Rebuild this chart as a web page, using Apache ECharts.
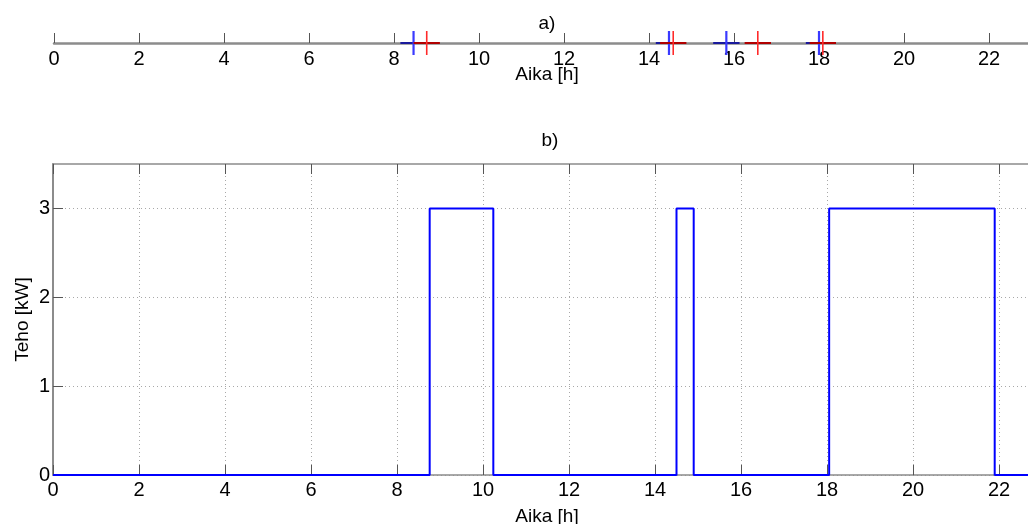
<!DOCTYPE html>
<html>
<head>
<meta charset="utf-8">
<script src="https://cdn.jsdelivr.net/npm/echarts@6/dist/echarts.min.js"></script>
<style>
  html, body { margin: 0; padding: 0; background: #fff; }
  #chart { width: 1028px; height: 524px; }
</style>
</head>
<body>
<div id="chart"></div>
<script>
// Time axis (hours) shared by both panels
const hourMin = 0;
const hourMax = 24;
const hourStep = 2;

// Panel a): event times in hours
const blueTimes = [8.46, 14.47, 15.82, 18.0];
const redTimes = [8.77, 14.57, 16.56, 18.09];
const eventSpread = 0.31; // half-width of each event bar, hours

// Panel b): heating power, as [hour, kW] change points (step line)
const powerHours = [0, 8.76, 10.24, 14.5, 14.9, 18.05, 21.9, 24];
const powerKW = [0, 3, 0, 3, 0, 3, 0, 0];

// Power axis
const kwMin = 0;
const kwMax = 3.5;
const kwStep = 1;

const FONT = 'Liberation Sans, Arial, sans-serif';
const AXIS_GRAY = '#8c8c8c';
const TICK_GRAY = '#555555';
const W = 1028;

const chart = echarts.init(document.getElementById('chart'), null, { renderer: 'canvas' });

function eventRenderer(barColor, markColor, markWidth) {
  return function (params, api) {
    const t = api.value(0);
    const c = api.coord([t, 0]);
    const l = api.coord([t - eventSpread, 0]);
    const r = api.coord([t + eventSpread, 0]);
    const top = api.coord([t, 0.5]);
    const bot = api.coord([t, -0.5]);
    return {
      type: 'group',
      children: [
        { type: 'line', shape: { x1: l[0], y1: c[1], x2: r[0], y2: c[1] },
          style: { stroke: barColor, lineWidth: 2 } },
        { type: 'line', shape: { x1: c[0], y1: top[1], x2: c[0], y2: bot[1] },
          style: { stroke: markColor, lineWidth: markWidth } }
      ]
    };
  };
}

const powerData = powerHours.map((h, i) => [h, powerKW[i]]);

const topLeft = 54, topPxPerHour = 42.5;
const botLeft = 53, botPxPerHour = 43;
const botTop = 164, botHeight = 311;

const option = {
  animation: false,
  backgroundColor: '#ffffff',
  textStyle: { fontFamily: FONT },
  title: [
    { text: 'a)', left: 542, top: 9, textAlign: 'center',
      textStyle: { fontFamily: FONT, fontSize: 19, fontWeight: 'normal', color: '#000' } },
    { text: 'Aika [h]', left: 542, top: 60, textAlign: 'center',
      textStyle: { fontFamily: FONT, fontSize: 19, fontWeight: 'normal', color: '#000' } },
    { text: 'b)', left: 545, top: 126, textAlign: 'center',
      textStyle: { fontFamily: FONT, fontSize: 19, fontWeight: 'normal', color: '#000' } },
    { text: 'Aika [h]', left: 542, top: 502, textAlign: 'center',
      textStyle: { fontFamily: FONT, fontSize: 19, fontWeight: 'normal', color: '#000' } }
  ],
  graphic: [
    {
      type: 'text', x: 23, y: botTop + botHeight / 2, rotation: Math.PI / 2,
      style: { text: 'Teho [kW]', fontFamily: FONT, fontSize: 19, fill: '#000',
        align: 'center', verticalAlign: 'middle' }
    }
  ],
  grid: [
    { left: topLeft, top: 19, right: W - topLeft - (hourMax - hourMin) * topPxPerHour,
      height: 24, show: false, outerBoundsMode: 'none', containLabel: false },
    { left: botLeft, top: botTop, right: W - botLeft - (hourMax - hourMin) * botPxPerHour,
      height: botHeight, show: false, outerBoundsMode: 'none', containLabel: false }
  ],
  xAxis: [
    {
      gridIndex: 0, type: 'value', min: hourMin, max: hourMax, interval: hourStep,
      position: 'bottom',
      axisLine: { show: true, onZero: false, lineStyle: { color: AXIS_GRAY, width: 2.5 } },
      axisTick: { show: true, inside: true, length: 10, lineStyle: { color: TICK_GRAY, width: 1 } },
      axisLabel: { show: true, margin: 6, fontSize: 20, color: '#000', fontFamily: FONT,
        showMaxLabel: false },
      splitLine: { show: false }
    },
    {
      gridIndex: 1, type: 'value', min: hourMin, max: hourMax, interval: hourStep,
      position: 'bottom',
      axisLine: { show: true, onZero: false, lineStyle: { color: AXIS_GRAY, width: 1.5 } },
      axisTick: { show: true, inside: true, length: 10, lineStyle: { color: TICK_GRAY, width: 1 } },
      axisLabel: { show: true, margin: 5, fontSize: 20, color: '#000', fontFamily: FONT,
        showMaxLabel: false },
      splitLine: { show: true, lineStyle: { color: '#a8a8a8', width: 1, type: [1, 3] } }
    },
    {
      gridIndex: 1, type: 'value', min: hourMin, max: hourMax, interval: hourStep,
      position: 'top',
      axisLine: { show: true, onZero: false, lineStyle: { color: AXIS_GRAY, width: 1.5 } },
      axisTick: { show: true, inside: true, length: 10, lineStyle: { color: TICK_GRAY, width: 1 } },
      axisLabel: { show: false },
      splitLine: { show: false }
    }
  ],
  yAxis: [
    {
      gridIndex: 0, type: 'value', min: 0, max: 1, show: false
    },
    {
      gridIndex: 1, type: 'value', min: kwMin, max: kwMax, interval: kwStep,
      position: 'left',
      axisLine: { show: true, onZero: false, lineStyle: { color: AXIS_GRAY, width: 2 } },
      axisTick: { show: true, inside: true, length: 10, lineStyle: { color: TICK_GRAY, width: 1 },
        customValues: [0, 1, 2, 3] },
      axisLabel: { show: true, margin: 3, fontSize: 20, color: '#000', fontFamily: FONT,
        formatter: v => (Number.isInteger(v) ? String(v) : '') },
      splitLine: { show: true, lineStyle: { color: '#a8a8a8', width: 1, type: [1, 3] } }
    }
  ],
  series: [
    {
      type: 'custom', xAxisIndex: 0, yAxisIndex: 0, clip: false, z: 5,
      renderItem: eventRenderer('#1a1a9c', '#3a3aff', 2.2),
      data: blueTimes.map(t => [t])
    },
    {
      type: 'custom', xAxisIndex: 0, yAxisIndex: 0, clip: false, z: 6,
      renderItem: eventRenderer('#b00000', '#ff2a2a', 1.6),
      data: redTimes.map(t => [t])
    },
    {
      type: 'line', xAxisIndex: 1, yAxisIndex: 1, step: 'end',
      showSymbol: false, symbol: 'none', clip: true, z: 5,
      lineStyle: { color: '#0000ff', width: 2 },
      data: powerData
    }
  ]
};

chart.setOption(option);
</script>
</body>
</html>
